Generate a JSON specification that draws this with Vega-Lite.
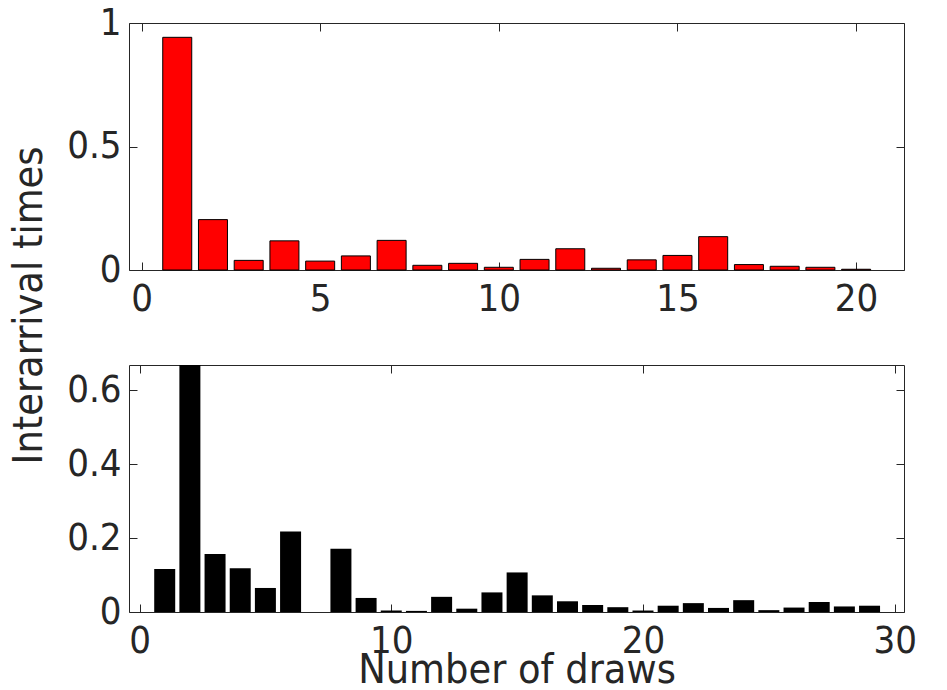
{
  "$schema": "https://vega.github.io/schema/vega-lite/v6.json",
  "autosize": {"type": "pad"},
  "padding": {"left": 7, "top": 3, "right": 0, "bottom": 0},
  "background": "white",
  "config": {
    "view": {"stroke": "#262626", "strokeWidth": 1},
    "axis": {
      "grid": false, "domain": false,
      "labelFont": "DejaVu Sans Condensed", "labelFontSize": 38, "labelColor": "#262626",
      "titleFont": "DejaVu Sans Condensed", "titleFontSize": 41, "titleColor": "#262626", "titleFontWeight": "normal",
      "tickColor": "#262626", "tickSize": -8, "labelPadding": 18, "labelFlush": false
    }
  },
  "bounds": "flush",
  "spacing": 95,
  "vconcat": [
    {
      "width": 775, "height": 247,
      "data": {"values": [
        {"draws": 1, "t": 0.942}, {"draws": 2, "t": 0.204}, {"draws": 3, "t": 0.039}, {"draws": 4, "t": 0.118},
        {"draws": 5, "t": 0.036}, {"draws": 6, "t": 0.057}, {"draws": 7, "t": 0.120}, {"draws": 8, "t": 0.019},
        {"draws": 9, "t": 0.027}, {"draws": 10, "t": 0.011}, {"draws": 11, "t": 0.043}, {"draws": 12, "t": 0.086},
        {"draws": 13, "t": 0.007}, {"draws": 14, "t": 0.041}, {"draws": 15, "t": 0.059}, {"draws": 16, "t": 0.135},
        {"draws": 17, "t": 0.022}, {"draws": 18, "t": 0.015}, {"draws": 19, "t": 0.011}, {"draws": 20, "t": 0.003}
      ]},
      "layer": [
        {
          "mark": {"type": "bar", "size": 29, "fill": "#ff0000", "stroke": "#000000", "strokeWidth": 1},
          "encoding": {
            "x": {"field": "draws", "type": "quantitative",
                  "scale": {"domain": [-0.21, 21.2], "nice": false, "zero": false},
                  "axis": {"title": null, "values": [0, 5, 10, 15, 20], "orient": "bottom", "format": "d"}},
            "y": {"field": "t", "type": "quantitative",
                  "scale": {"domain": [0, 1], "nice": false},
                  "axis": {"title": "Interarrival times", "values": [0, 0.5, 1], "orient": "left", "format": "~g",
                           "labelPadding": 16, "titleX": -88, "titleY": 282, "titleAngle": -90,
                           "titleAlign": "center", "titleBaseline": "alphabetic"}}
          }
        },
        {
          "mark": {"type": "bar", "size": 29, "opacity": 0},
          "encoding": {
            "x": {"field": "draws", "type": "quantitative",
                  "scale": {"domain": [-0.21, 21.2], "nice": false, "zero": false},
                  "axis": {"title": null, "values": [0, 5, 10, 15, 20], "orient": "top", "labels": false}},
            "y": {"field": "t", "type": "quantitative",
                  "scale": {"domain": [0, 1], "nice": false},
                  "axis": {"title": null, "values": [0, 0.5, 1], "orient": "right", "labels": false}}
          }
        }
      ],
      "resolve": {"scale": {"x": "independent", "y": "independent"}}
    },
    {
      "width": 775, "height": 247,
      "data": {"values": [
        {"draws": 1, "t": 0.116}, {"draws": 2, "t": 0.68}, {"draws": 3, "t": 0.157}, {"draws": 4, "t": 0.118},
        {"draws": 5, "t": 0.065}, {"draws": 6, "t": 0.218}, {"draws": 7, "t": 0}, {"draws": 8, "t": 0.171},
        {"draws": 9, "t": 0.038}, {"draws": 10, "t": 0.004}, {"draws": 11, "t": 0.003}, {"draws": 12, "t": 0.041},
        {"draws": 13, "t": 0.009}, {"draws": 14, "t": 0.053}, {"draws": 15, "t": 0.107}, {"draws": 16, "t": 0.045},
        {"draws": 17, "t": 0.029}, {"draws": 18, "t": 0.019}, {"draws": 19, "t": 0.013}, {"draws": 20, "t": 0.004},
        {"draws": 21, "t": 0.017}, {"draws": 22, "t": 0.024}, {"draws": 23, "t": 0.011}, {"draws": 24, "t": 0.032},
        {"draws": 25, "t": 0.005}, {"draws": 26, "t": 0.012}, {"draws": 27, "t": 0.027}, {"draws": 28, "t": 0.015},
        {"draws": 29, "t": 0.017}
      ]},
      "layer": [
        {
          "mark": {"type": "bar", "size": 21, "fill": "#000000", "clip": true},
          "encoding": {
            "x": {"field": "draws", "type": "quantitative",
                  "scale": {"domain": [-0.22, 30.17], "nice": false, "zero": false},
                  "axis": {"title": "Number of draws", "values": [0, 10, 20, 30], "orient": "bottom", "format": "d",
                           "titleY": 70, "titleBaseline": "alphabetic"}},
            "y": {"field": "t", "type": "quantitative",
                  "scale": {"domain": [0, 0.668], "nice": false},
                  "axis": {"title": null, "values": [0, 0.2, 0.4, 0.6], "orient": "left", "format": "~g", "labelPadding": 16}}
          }
        },
        {
          "mark": {"type": "bar", "size": 21, "opacity": 0, "clip": true},
          "encoding": {
            "x": {"field": "draws", "type": "quantitative",
                  "scale": {"domain": [-0.22, 30.17], "nice": false, "zero": false},
                  "axis": {"title": null, "values": [0, 10, 20, 30], "orient": "top", "labels": false}},
            "y": {"field": "t", "type": "quantitative",
                  "scale": {"domain": [0, 0.668], "nice": false},
                  "axis": {"title": null, "values": [0, 0.2, 0.4, 0.6], "orient": "right", "labels": false}}
          }
        }
      ],
      "resolve": {"scale": {"x": "independent", "y": "independent"}}
    }
  ]
}
